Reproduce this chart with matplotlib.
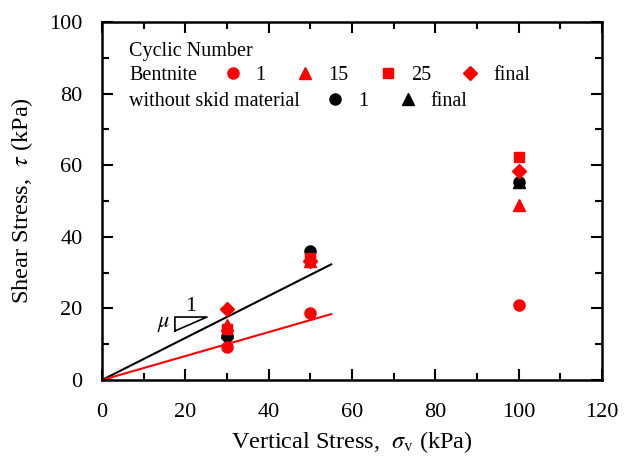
import numpy as np
import matplotlib.pyplot as plt

plt.rcParams['font.family'] = ['Liberation Serif', 'DejaVu Serif']
plt.rcParams['mathtext.fontset'] = 'stix'

# vertical stress (kPa) and shear stress (kPa) per cyclic number
sv = [30, 50, 100]
bent_1 = [9.3, 18.8, 21.0]
bent_15 = [15.5, 33.2, 48.8]
bent_25 = [14.2, 34.0, 62.3]
bent_final = [19.7, 33.3, 58.5]
none_1 = [12.2, 36.0, 55.3]
none_final = [13.5, 35.0, 55.3]

# friction lines
fit_x = [0, 55]
none_fit = [0, 32.3]
bent_fit = [0, 18.4]

fig = plt.figure(figsize=(6.43, 4.66), dpi=100)
ax = fig.add_axes([0.1586, 0.1845, 0.7776, 0.7683])

ax.plot(fit_x, none_fit, color='black', lw=1.5)
ax.plot(fit_x, bent_fit, color='red', lw=1.5)

ms = 8
h_nf, = ax.plot(sv, none_final, '^', color='black', ms=ms, ls='none')
h_n1, = ax.plot(sv, none_1, 'o', color='black', ms=ms, ls='none')
h_b1, = ax.plot(sv, bent_1, 'o', color='red', ms=ms, ls='none')
h_b15, = ax.plot(sv, bent_15, '^', color='red', ms=ms, ls='none')
h_b25, = ax.plot(sv, bent_25, 's', color='red', ms=ms - 1, ls='none')
h_bf, = ax.plot(sv, bent_final, 'D', color='red', ms=ms - 1, ls='none')

# slope triangle
tri_x = [17.5, 17.5, 25.2, 17.5]
tri_y = [13.7, 17.6, 17.6, 13.7]
ax.plot(tri_x, tri_y, color='black', lw=1.2)
ax.text(21.2, 18.0, '1', fontsize=16, ha='center', va='bottom')
ax.text(16.4, 15.4, r'$\mu$', fontsize=16, ha='right', va='center')

ax.set_xlim(0, 120)
ax.set_ylim(0, 100)
ax.set_xticks(np.arange(0, 121, 20))
ax.set_yticks(np.arange(0, 101, 20))
ax.set_xticks(np.arange(10, 120, 20), minor=True)
ax.set_yticks(np.arange(10, 100, 20), minor=True)
ax.tick_params(which='both', direction='in', top=True, right=True, width=1.5)
ax.tick_params(which='major', length=8, labelsize=16)
ax.tick_params(axis='x', which='major', pad=16.5)
ax.tick_params(axis='y', which='major', pad=14)
ax.tick_params(which='minor', length=5)
for s in ax.spines.values():
    s.set_linewidth(1.8)

ax.set_xlabel(r'Vertical Stress,  $\sigma_{\rm v}$ (kPa)', fontsize=17.5, labelpad=5)
ax.set_ylabel(r'Shear Stress,  $\tau$ (kPa)', fontsize=17.5, labelpad=10)

# legend block
lfs = 14.5
ax.text(0.055, 0.918, 'Cyclic Number', transform=ax.transAxes, fontsize=lfs, va='center')
ax.text(0.055, 0.850, 'Bentnite', transform=ax.transAxes, fontsize=lfs, va='center')
ax.text(0.055, 0.777, 'without skid material', transform=ax.transAxes, fontsize=lfs, va='center')

kw = dict(frameon=False, fontsize=lfs, handlelength=0.8, handletextpad=0.75,
          columnspacing=1.55, borderpad=0, borderaxespad=0, markerscale=1.0)
leg1 = ax.legend([h_b1, h_b15, h_b25, h_bf], ['1', '15', '25', 'final'], ncol=4,
                 loc='center left', bbox_to_anchor=(0.245, 0.850), **kw)
ax.add_artist(leg1)
ax.legend([h_n1, h_nf], ['1', 'final'], ncol=2,
          loc='center left', bbox_to_anchor=(0.45, 0.777), **kw)

fig.savefig('out.png', dpi=100)
